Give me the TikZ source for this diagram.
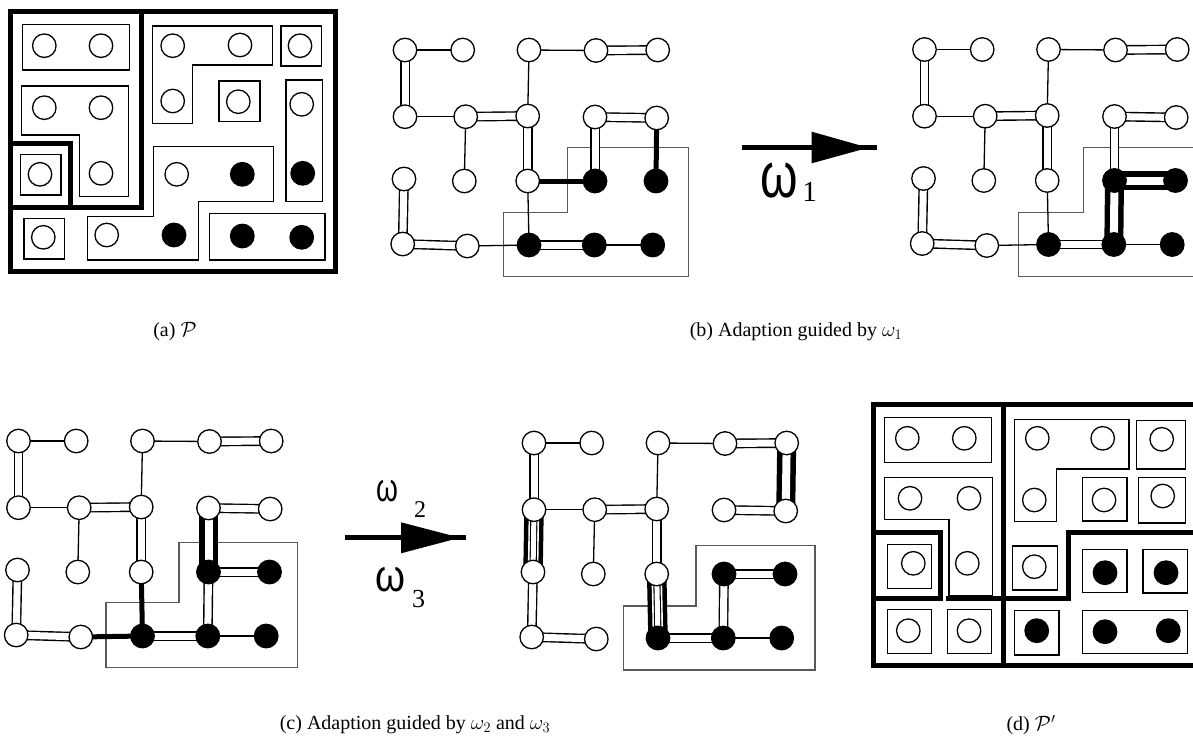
\documentclass[tikz,border=0pt]{standalone}
\usepackage{fontspec}
\usepackage{graphicx}
\setmainfont{Liberation Serif}
\newfontfamily\omfont{Liberation Sans}
\usetikzlibrary{backgrounds}
\newcommand{\om}[3]{{\omfont\scalebox{#1}[#2]{\fontsize{#3}{#3}\selectfont ω}}}
\newcommand{\mkgraph}[3]{%
\begin{scope}[shift={(#2,#3)}]
\node[wn] (#1-11) at (405,50) {};
\node[wn] (#1-12) at (462.7,50) {};
\node[wn] (#1-13) at (529,50) {};
\node[wn] (#1-14) at (596,50.5) {};
\node[wn] (#1-15) at (657.7,50) {};
\node[wn] (#1-21) at (405,116.7) {};
\node[wn] (#1-22) at (465.7,116.7) {};
\node[wn] (#1-23) at (527.7,116) {};
\node[wn] (#1-24) at (595,117) {};
\node[wn] (#1-25) at (656.7,118) {};
\node[wn] (#1-31) at (404,179) {};
\node[wn] (#1-32) at (464.3,181) {};
\node[wn] (#1-33) at (527.7,181) {};
\node[bn] (#1-34) at (595,181) {};
\node[bn] (#1-35) at (656,181) {};
\node[wn] (#1-41) at (402.7,244) {};
\node[wn] (#1-42) at (467.3,246) {};
\node[bn] (#1-43) at (529,245) {};
\node[bn] (#1-44) at (594.3,245) {};
\node[bn] (#1-45) at (652.7,245) {};
\end{scope}}
\newcommand{\ed}[4]{\draw[#1] (#2-#3.center) -- (#2-#4.center);}
\begin{document}
\begin{tikzpicture}[x=1pt,y=-1pt,
  wn/.style={circle,draw,fill=white,line width=1.3pt,minimum size=23.5pt,inner sep=0pt},
  bn/.style={circle,draw,fill=black,line width=1.3pt,minimum size=23.5pt,inner sep=0pt},
  sl/.style={line width=1.3pt},
  dl/.style={double,line width=1.4pt,double distance=7pt},
  tk/.style={line width=5pt},
  td/.style={double,line width=5.5pt,double distance=8pt},
  tdw/.style={double,line width=4.5pt,double distance=10.5pt},
  dli/.style={double,line width=1.1pt,double distance=5pt},
  boxln/.style={line width=1.3pt},
  partln/.style={line width=5pt,line join=miter},
  regln/.style={draw=black!65,line width=1.2pt},
  captxt/.style={font=\fontsize{20}{24}\selectfont,inner sep=0pt},
  labtxt/.style={inner sep=0pt}
]
\useasboundingbox (0,0) rectangle (1193,736);

% ---------------- panel (a) ----------------
\draw[boxln] (22.7,24.3) rectangle (129.3,70);
\draw[boxln] (21.7,86) -- (128.3,86) -- (128.3,196.7) -- (79.3,196.7) -- (79.3,135) -- (21.7,135) -- cycle;
\draw[boxln] (20.7,154.3) rectangle (61,195);
\draw[boxln] (152.3,26) -- (272.7,26) -- (272.7,65) -- (192.7,65) -- (192.7,123.3) -- (152.3,123.3) -- cycle;
\draw[boxln] (281,26) rectangle (321.7,66);
\draw[boxln] (219,81) rectangle (260,121.7);
\draw[boxln] (286,80) rectangle (322.7,201.7);
\draw[boxln] (153.3,146.7) -- (273.3,146.7) -- (273.3,201.7) -- (198.3,201.7) -- (198.3,260) -- (87.3,260) -- (87.3,216.7) -- (153.3,216.7) -- cycle;
\draw[boxln] (24,218.3) rectangle (64.3,259);
\draw[boxln] (209.3,213.3) rectangle (325,260);
\draw[partln] (10,11.8) rectangle (335.8,271);
\draw[partln] (10,207.5) -- (141.7,207.5) -- (141.7,9.5);
\draw[partln] (10,143.3) -- (70.7,143.3) -- (70.7,207.5);
\node[wn] (a11) at (44.3,45.7) {};
\node[wn] (a12) at (101,45.7) {};
\node[wn] (a13) at (172.7,45.7) {};
\node[wn] (a14) at (240,45) {};
\node[wn] (a15) at (300,45.7) {};
\node[wn] (a21) at (44.3,107.7) {};
\node[wn] (a22) at (101,107.7) {};
\node[wn] (a23) at (172.7,101) {};
\node[wn] (a24) at (238.3,101.7) {};
\node[wn] (a25) at (301.7,104.3) {};
\node[wn] (a31) at (40,174.3) {};
\node[wn] (a32) at (101,173.3) {};
\node[wn] (a33) at (176.7,174.3) {};
\node[bn] (a34) at (242.3,174.3) {};
\node[bn] (a35) at (302.7,173.3) {};
\node[wn] (a41) at (43.3,237.3) {};
\node[wn] (a42) at (106.7,235) {};
\node[bn] (a43) at (174,235) {};
\node[bn] (a44) at (242.3,236) {};
\node[bn] (a45) at (301.7,237.3) {};

% ---------------- graphs ----------------
\mkgraph{B}{0}{0}
\mkgraph{R}{519.5}{-0.5}
\mkgraph{C}{-386.5}{391}
\mkgraph{D}{129}{393}

\begin{pgfonlayer}{background}
\draw[regln] (503.3,212.3) -- (567.3,212.3) -- (567.3,147.7) -- (688.3,147.7) -- (688.3,276.7) -- (503.3,276.7) -- cycle;
\draw[regln] (1193,147.7) -- (1083.3,147.7) -- (1083.3,212.3) -- (1018.3,212.3) -- (1018.3,276.7) -- (1193,276.7);
\draw[regln] (106,602.3) -- (179,602.3) -- (179,542.7) -- (297.7,542.7) -- (297.7,667.3) -- (106,667.3) -- cycle;
\draw[regln] (623.3,606) -- (696,606) -- (696,545.7) -- (815,545.7) -- (815,670) -- (623.3,670) -- cycle;
% graph B
\ed{sl}{B}{11}{12} \ed{dl}{B}{11}{21} \ed{sl}{B}{21}{22} \ed{dl}{B}{22}{23}
\ed{sl}{B}{22}{32} \ed{sl}{B}{13}{14} \ed{sl}{B}{13}{23} \ed{dl}{B}{14}{15}
\ed{dl}{B}{23}{33} \ed{dl}{B}{24}{25} \ed{dl}{B}{24}{34} \ed{tk}{B}{25}{35}
\ed{tk}{B}{33}{34} \ed{sl}{B}{33}{43} \ed{dl}{B}{31}{41} \ed{dl}{B}{41}{42}
\ed{sl}{B}{42}{43} \ed{dl}{B}{43}{44} \ed{sl}{B}{44}{45}
% graph R
\ed{sl}{R}{11}{12} \ed{dl}{R}{11}{21} \ed{sl}{R}{21}{22} \ed{dl}{R}{22}{23}
\ed{sl}{R}{22}{32} \ed{sl}{R}{13}{14} \ed{sl}{R}{13}{23} \ed{dl}{R}{14}{15}
\ed{dl}{R}{23}{33} \ed{dl}{R}{24}{25} \ed{dl}{R}{24}{34} \ed{td}{R}{34}{35}
\ed{td}{R}{34}{44} \ed{sl}{R}{33}{43} \ed{dl}{R}{31}{41} \ed{dl}{R}{41}{42}
\ed{sl}{R}{42}{43} \ed{dl}{R}{43}{44} \ed{sl}{R}{44}{45}
% graph C
\ed{sl}{C}{11}{12} \ed{dl}{C}{11}{21} \ed{sl}{C}{21}{22} \ed{dl}{C}{22}{23}
\ed{sl}{C}{22}{32} \ed{sl}{C}{13}{14} \ed{sl}{C}{13}{23} \ed{dl}{C}{14}{15}
\ed{dl}{C}{23}{33} \ed{dl}{C}{24}{25} \ed{td}{C}{24}{34} \ed{dl}{C}{34}{35}
\ed{dl}{C}{34}{44} \ed{tk}{C}{33}{43} \ed{dl}{C}{31}{41} \ed{dl}{C}{41}{42}
\ed{tk}{C}{42}{43} \ed{dl}{C}{43}{44} \ed{sl}{C}{44}{45}
% graph D
\ed{sl}{D}{11}{12} \ed{dl}{D}{11}{21} \ed{sl}{D}{21}{22} \ed{dl}{D}{22}{23}
\ed{sl}{D}{22}{32} \ed{sl}{D}{13}{14} \ed{sl}{D}{13}{23} \ed{dl}{D}{14}{15}
\ed{td}{D}{15}{25} \ed{dl}{D}{24}{25} \ed{dl}{D}{23}{33}
\ed{tdw}{D}{33}{43} \ed{dli}{D}{33}{43}
\ed{tdw}{D}{21}{31} \ed{dli}{D}{21}{31}
\ed{dl}{D}{31}{41} \ed{dl}{D}{41}{42} \ed{dl}{D}{43}{44}
\ed{dl}{D}{34}{35} \ed{dl}{D}{34}{44} \ed{sl}{D}{44}{45}
\end{pgfonlayer}

% ---------------- arrows ----------------
\coordinate (ab1) at (741.7,147.7);
\coordinate (ab2) at (876.7,147.7);
\draw[line width=5pt] (ab1) -- (ab2);
\fill (811.7,131.7) -- (868.3,147.7) -- (811.7,163.3) -- cycle;
\node[labtxt] (w1) at (779,180.5) {\om{1.2}{1.6}{40}};
\node[labtxt] (w1s) at (809.5,192) {\fontsize{29}{29}\selectfont 1};

\coordinate (ac1) at (345,537.7);
\coordinate (ac2) at (466,537.7);
\draw[line width=4.5pt] (ac1) -- (ac2);
\fill (401,522.3) -- (460,537.7) -- (401,553.3) -- cycle;
\node[labtxt] (w2) at (387.5,491) {\om{1.0}{1.4}{28}};
\node[labtxt] (w2s) at (420,510) {\fontsize{24}{24}\selectfont 2};
\node[labtxt] (w3) at (390.5,579.5) {\om{1.2}{1.4}{32}};
\node[labtxt] (w3s) at (418.5,599) {\fontsize{26}{26}\selectfont 3};

% ---------------- panel (d) ----------------
\draw[boxln] (884.3,417.3) rectangle (991.7,462.7);
\draw[boxln] (884.3,477.3) -- (992.3,477.3) -- (992.3,596) -- (949,596) -- (949,519.3) -- (884.3,519.3) -- cycle;
\draw[boxln] (887.7,544.3) rectangle (931.7,588.3);
\draw[boxln] (1014.3,419.3) -- (1129,419.3) -- (1129,469) -- (1056.7,469) -- (1056.7,521.7) -- (1014.3,521.7) -- cycle;
\draw[boxln] (1136.7,420.7) rectangle (1185.5,469);
\draw[boxln] (1082.7,477.3) rectangle (1127,521);
\draw[boxln] (1138.3,477.3) rectangle (1185.5,523);
\draw[boxln] (1012.7,546) rectangle (1057.3,590);
\draw[boxln] (1082.7,549.3) rectangle (1127,592.7);
\draw[boxln] (1143,549.3) rectangle (1187.5,593);
\draw[boxln] (887.7,609.3) rectangle (931.7,653.3);
\draw[boxln] (947.7,609.3) rectangle (991.7,653.3);
\draw[boxln] (1014.3,610.7) rectangle (1059,655);
\draw[boxln] (1082.7,610.7) rectangle (1187.5,653.3);
\draw[partln] (1193,404.5) -- (873.3,404.5) -- (873.3,665) -- (1193,665);
\draw[partln] (1003.5,404.5) -- (1003.5,665);
\draw[partln] (873.3,532.3) -- (940,532.3) -- (940,598.3) -- (873.3,598.3);
\draw[partln] (945.5,598.3) -- (1068.3,598.3) -- (1068.3,532.3) -- (1193,532.3);
\node[wn] (d11) at (907.3,438.3) {};
\node[wn] (d12) at (964.3,438.3) {};
\node[wn] (d13) at (1037.3,438.3) {};
\node[wn] (d14) at (1102.7,438.3) {};
\node[wn] (d15) at (1161.7,439.3) {};
\node[wn] (d21) at (910,498.3) {};
\node[wn] (d22) at (969,498.3) {};
\node[wn] (d23) at (1034.3,500) {};
\node[wn] (d24) at (1104,500) {};
\node[wn] (d25) at (1162.7,496) {};
\node[wn] (d31) at (913.3,563.3) {};
\node[wn] (d32) at (967.3,563.3) {};
\node[wn] (d33) at (1034.3,566.7) {};
\node[bn] (d34) at (1105,572.7) {};
\node[bn] (d35) at (1166,572.7) {};
\node[wn] (d41) at (908.3,630.7) {};
\node[wn] (d42) at (969,630.7) {};
\node[bn] (d43) at (1036.7,630.7) {};
\node[bn] (d44) at (1105,631.7) {};
\node[bn] (d45) at (1168.3,630.7) {};

% ---------------- captions ----------------
\node[captxt] (capa) at (175,332) {(a) $\mathcal{P}$};
\node[captxt] (capb) at (796,332) {(b) Adaption guided by $\omega_1$};
\node[captxt] (capc) at (415,725) {(c) Adaption guided by $\omega_2$ and $\omega_3$};
\node[captxt] (capd) at (1031,725) {(d) $\mathcal{P}'$};
\end{tikzpicture}
\end{document}
